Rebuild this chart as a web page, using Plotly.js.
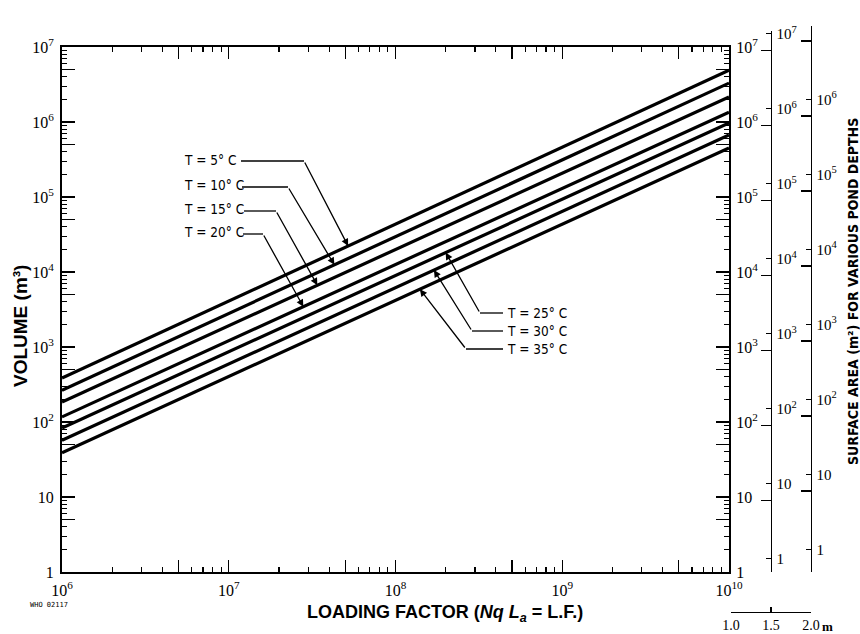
<!DOCTYPE html>
<html>
<head>
<meta charset="utf-8">
<script src="https://cdn.plot.ly/plotly-3.0.1.min.js"></script>
<style>
  html, body { margin: 0; padding: 0; background: #fff; }
  #chart { width: 860px; height: 634px; }
</style>
</head>
<body>
<div id="chart"></div>
<script>
// ---- Data -------------------------------------------------------------
// Loading factor (Nq·La) span of every temperature line
const loadingFactor = [1e6, 1e10];
const temperatureLabels = ['T = 5° C', 'T = 10° C', 'T = 15° C', 'T = 20° C',
                           'T = 25° C', 'T = 30° C', 'T = 35° C'];
// Pond volume (m³) at the two ends of each line
const volumeAtLowLF  = [385, 265, 185, 117, 83, 57, 39];
const volumeAtHighLF = [4.9e6, 3.3e6, 2.15e6, 1.35e6, 9.7e5, 6.7e5, 4.5e5];
// Pond depths (m) used for the surface-area scales
const pondDepths = [1.0, 1.5, 2.0];
const depthLabels = ['1.0', '1.5', '2.0'];
// Loading factor where each label's arrow meets its line
const arrowLF = [5.2e7, 4.3e7, 3.4e7, 2.8e7, 2.0e8, 1.7e8, 1.4e8];

// ---- Geometry (pixels) --------------------------------------------------
const G = { left: 62, right: 811, top: 24, bottom: 612,
            plotRight: 729, plotTop: 47, plotBottom: 572 };
const fx = X => (X - G.left) / (G.right - G.left);
const fy = Y => (G.bottom - Y) / (G.bottom - G.top);
const X_RANGE = [6, 10], Y_RANGE = [0, 7];
const pxPerDecX = (G.plotRight - G.left) / (X_RANGE[1] - X_RANGE[0]);
const pxPerDecY = (G.plotBottom - G.plotTop) / (Y_RANGE[1] - Y_RANGE[0]);
const pxToLogX = X => X_RANGE[0] + (X - G.left) / pxPerDecX;
const pxToLogY = Y => Y_RANGE[0] + (G.plotBottom - Y) / pxPerDecY;

// ---- Tick helpers ---------------------------------------------------------
const pow10 = e => Math.pow(10, e);
const range = (a, b) => { const r = []; for (let e = a; e <= b; e++) r.push(e); return r; };
const expLabel = e => e === 0 ? '1' : e === 1 ? '10' : '10<sup>' + e + '</sup>';
const digitTicks = (e0, e1) => {
  const r = [];
  range(e0, e1 - 1).forEach(e => [2, 3, 4, 5, 6, 7, 8, 9].forEach(d => r.push(d * pow10(e))));
  return r;
};
const fiveTicks = (e0, e1) => range(e0, e1 - 1).map(e => 5 * pow10(e));

const serif = 'Liberation Serif, Times New Roman, serif';
const cond = 'DejaVu Sans Condensed, DejaVu Sans, sans-serif';
const sans = 'Liberation Sans, Arial, sans-serif';

// ---- Traces -----------------------------------------------------------------
const traces = temperatureLabels.map((name, i) => ({
  type: 'scatter', mode: 'lines', name: name,
  x: loadingFactor, y: [volumeAtLowLF[i], volumeAtHighLF[i]],
  xaxis: 'x', yaxis: 'y',
  line: { color: '#000', width: 3.2 },
  hoverinfo: 'name', showlegend: false
}));
// Invisible anchors so every auxiliary axis gets drawn
const ghost = (xa, ya, x, y) => ({ type: 'scatter', mode: 'markers', x: [x], y: [y],
  xaxis: xa, yaxis: ya, marker: { opacity: 0 }, hoverinfo: 'skip', showlegend: false });
traces.push(ghost('x', 'y2', 1e6, 1), ghost('x', 'y5', 1e6, 1), ghost('x3', 'y', 1e6, 1),
            ghost('x', 'y3', 1e6, 1), ghost('x', 'y4', 1e6, 1), ghost('x2', 'y', 1.5, 1));

// ---- Axes --------------------------------------------------------------------
const base = { ticks: 'inside', tickcolor: '#000', tickwidth: 1.4, showgrid: false,
               zeroline: false, linecolor: '#000' };
const minorOf = (vals, len) => ({ tickmode: 'array', tickvals: vals, ticks: 'inside',
  ticklen: len, tickwidth: 1.2, tickcolor: '#000', showgrid: false });
const volumeAxis = Object.assign({}, base, {
  type: 'log', range: Y_RANGE, domain: [fy(G.plotBottom), fy(G.plotTop)],
  tickmode: 'array', tickvals: range(0, 7).map(pow10), ticktext: range(0, 7).map(expLabel),
  ticklen: 13, showline: true, linewidth: 2,
  minor: minorOf(digitTicks(0, 7), 5),
  tickfont: { family: serif, size: 16, color: '#000' }
});

function areaAxis(depth, topPx, posPx) {
  const lo = -Math.log10(depth);
  return Object.assign({}, base, {
    type: 'log', anchor: 'free', position: fx(posPx), side: 'right',
    domain: [fy(G.plotBottom), fy(topPx)],
    range: [lo, lo + (G.plotBottom - topPx) / pxPerDecY],
    tickmode: 'array', tickvals: range(0, 7).map(pow10), ticktext: range(0, 7).map(expLabel),
    ticklen: 5, showline: true, linewidth: 1.4,
    minor: minorOf(range(0, 6).map(e => 6 * pow10(e)), 10),
    tickfont: { family: serif, size: 15, color: '#000' }, ticklabelstandoff: 1
  });
}

const layout = {
  width: 860, height: 634,
  margin: { l: G.left, r: 860 - G.right, t: G.top, b: 634 - G.bottom, pad: 0 },
  paper_bgcolor: '#fff', plot_bgcolor: 'rgba(0,0,0,0)',
  showlegend: false,
  xaxis: Object.assign({}, base, {
    type: 'log', range: X_RANGE, domain: [0, fx(G.plotRight)], anchor: 'y',
    showline: true, mirror: 'ticks', linewidth: 2,
    tickmode: 'array', tickvals: range(6, 10).map(pow10), ticktext: range(6, 10).map(expLabel),
    ticklen: 12, minor: minorOf(digitTicks(6, 10), 5),
    tickfont: { family: serif, size: 16, color: '#000' }, ticklabelstandoff: 3
  }),
  // long ticks at 5 × 10^n on the loading-factor axis (bottom and top)
  xaxis3: Object.assign({}, base, {
    type: 'log', range: X_RANGE, overlaying: 'x', anchor: 'y', side: 'bottom',
    mirror: 'ticks', showline: false, tickmode: 'array', tickvals: fiveTicks(6, 10),
    ticklen: 12, showticklabels: false
  }),
  yaxis: Object.assign({}, volumeAxis, { anchor: 'x', ticklabelstandoff: 3 }),
  yaxis2: Object.assign({}, volumeAxis, { overlaying: 'y', side: 'right', anchor: 'x',
                                           ticklabelstandoff: 2 }),
  // long ticks at 5 × 10^n on the volume axis (left and right)
  yaxis5: Object.assign({}, base, {
    type: 'log', range: Y_RANGE, overlaying: 'y', anchor: 'x', side: 'left',
    mirror: 'ticks', showline: false, tickmode: 'array', tickvals: fiveTicks(0, 7),
    ticklen: 13, showticklabels: false
  }),
  yaxis3: areaAxis(pondDepths[1], 31, 771),
  yaxis4: areaAxis(pondDepths[2], 26, 811),
  xaxis2: Object.assign({}, base, {
    type: 'linear', range: [pondDepths[0], pondDepths[2]], domain: [fx(G.plotRight + 2), 1],
    anchor: 'free', position: 0, ticklen: 5, showline: true, linewidth: 1.3,
    tickmode: 'array', tickvals: pondDepths, ticktext: depthLabels,
    tickfont: { family: serif, size: 14, color: '#000' }, ticklabelstandoff: 0
  }),
  annotations: [],
  shapes: []
};

// ---- Labels with leader lines ------------------------------------------------------
// [text left x, text centre y, corner x, corner y, leader start x] in pixels
const labelPos = [
  [182, 160, 304, 161, 241], [182, 185, 288, 187, 242],
  [182, 209, 276, 211, 244], [182, 232, 263, 234, 243],
  [505, 313, 480, 313, 503], [505, 331, 472, 331, 503], [505, 349, 466, 349, 503]
];
const logVat = (i, lf) => {
  const a = Math.log10(volumeAtLowLF[i]), b = Math.log10(volumeAtHighLF[i]);
  const t = (Math.log10(lf) - Math.log10(loadingFactor[0])) /
            (Math.log10(loadingFactor[1]) - Math.log10(loadingFactor[0]));
  return a + t * (b - a);
};
temperatureLabels.forEach((txt, i) => {
  const [tx, ty, cx, cy, sx] = labelPos[i];
  layout.annotations.push({
    xref: 'paper', yref: 'paper', x: fx(tx), y: fy(ty), xanchor: 'left', yanchor: 'middle',
    text: txt, showarrow: false, font: { family: cond, size: 13.5, color: '#000' }
  });
  layout.annotations.push({
    xref: 'x', yref: 'y', x: Math.log10(arrowLF[i]), y: logVat(i, arrowLF[i]),
    axref: 'x', ayref: 'y', ax: pxToLogX(cx), ay: pxToLogY(cy),
    text: '', showarrow: true, arrowhead: 2, arrowsize: 1.1, arrowwidth: 1.3,
    arrowcolor: '#000', standoff: 0
  });
  layout.shapes.push({
    type: 'line', xref: 'paper', yref: 'paper',
    x0: fx(sx), x1: fx(cx), y0: fy(cy), y1: fy(cy),
    line: { color: '#000', width: 1.3 }
  });
});

// ---- Titles and notes ------------------------------------------------------------
layout.annotations.push(
  { xref: 'paper', yref: 'paper', x: fx(20), y: fy(326), textangle: -90,
    text: 'VOLUME (m³)', showarrow: false, xanchor: 'center', yanchor: 'middle',
    font: { family: sans, size: 19, weight: 'bold', color: '#000' } },
  { xref: 'paper', yref: 'paper', x: fx(445), y: fy(614), borderpad: 0,
    text: 'LOADING FACTOR (<i>Nq L<sub>a</sub></i> = L.F.)', showarrow: false,
    xanchor: 'center', yanchor: 'middle',
    font: { family: sans, size: 18, weight: 'bold', color: '#000' } },
  { xref: 'paper', yref: 'paper', x: fx(853), y: fy(292), textangle: -90,
    text: 'SURFACE AREA (m²) FOR VARIOUS POND DEPTHS', showarrow: false,
    xanchor: 'center', yanchor: 'middle',
    font: { family: cond, size: 14, weight: 'bold', color: '#000' } },
  { xref: 'paper', yref: 'paper', x: fx(820), y: fy(626), xanchor: 'left', yanchor: 'middle',
    text: 'm', showarrow: false, font: { family: serif, size: 13, weight: 'bold', color: '#000' } },
  { xref: 'paper', yref: 'paper', x: fx(28), y: fy(605), xanchor: 'left', yanchor: 'middle',
    text: 'WHO 02117', showarrow: false,
    font: { family: 'DejaVu Sans Mono, monospace', size: 7, color: '#000' } }
);

Plotly.newPlot('chart', traces, layout, { staticPlot: true, displayModeBar: false });
</script>
</body>
</html>
